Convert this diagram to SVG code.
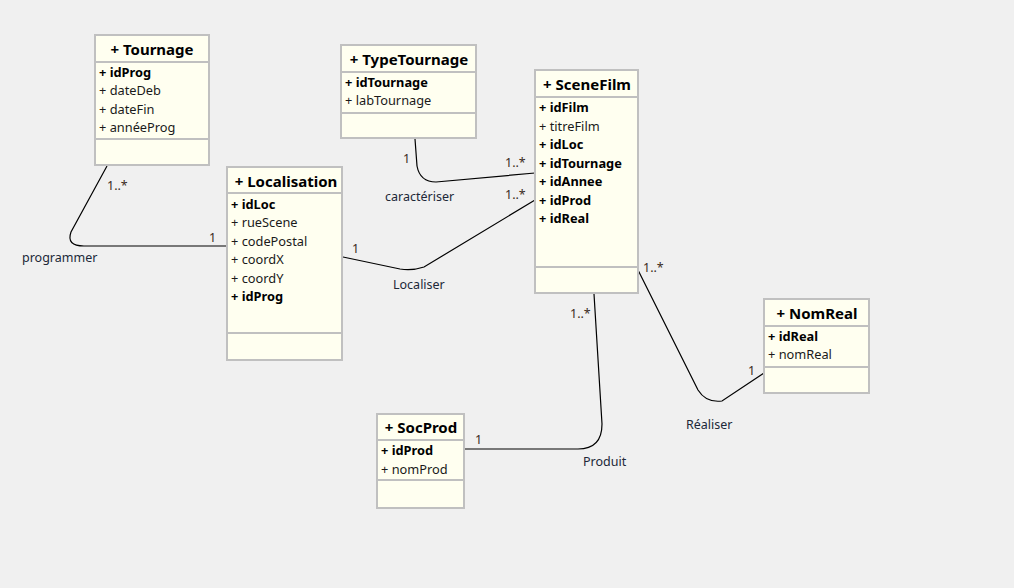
<svg xmlns="http://www.w3.org/2000/svg" width="1014" height="588" viewBox="0 0 1014 588">
<style>
.box{fill:#fffff0;stroke:#c0c0c0;stroke-width:2}
.sep{stroke:#c0c0c0;stroke-width:2}
.t{font-family:"Noto Sans","DejaVu Sans",sans-serif;font-size:12.8px;fill:#1a1a1a}
.b{font-weight:bold;fill:#000}
.h{font-family:"Noto Sans","DejaVu Sans",sans-serif;font-size:15px;font-weight:bold;fill:#000;text-anchor:middle}
.m{font-family:"Noto Sans","DejaVu Sans",sans-serif;font-size:12.5px;fill:#3a2a1a}
.l{font-family:"Noto Sans","DejaVu Sans",sans-serif;font-size:12.5px;fill:#202838}
.c{fill:none;stroke:#000;stroke-width:1.2}
</style>
<rect width="1014" height="588" fill="#f0f0f0"/>
<g id="connectors">
<path class="c" d="M107,166 L71,232 Q66,246 84,246 L227,246"/>
<path class="c" d="M415,139 L417,166 Q420,182 436,182 L535,173"/>
<path class="c" d="M343,257 L400,269 Q412,271 424,267 L535,200"/>
<path class="c" d="M594,294 L602,424 Q602,449 578,449 L464,449"/>
<path class="c" d="M638,270 L698,390 Q706,403 722,401 L764,373"/>
<text class="m" x="107" y="190">1..*</text>
<text class="m" x="209" y="242">1</text>
<text class="l" x="22" y="262">programmer</text>
<text class="m" x="403" y="163">1</text>
<text class="m" x="505" y="167">1..*</text>
<text class="l" x="385" y="201">caractériser</text>
<text class="m" x="352" y="253">1</text>
<text class="m" x="505" y="199">1..*</text>
<text class="l" x="393" y="289">Localiser</text>
<text class="m" x="570" y="318">1..*</text>
<text class="m" x="475" y="444">1</text>
<text class="l" x="583" y="466">Produit</text>
<text class="m" x="643" y="272">1..*</text>
<text class="m" x="748" y="375">1</text>
<text class="l" x="686" y="429">Réaliser</text>
</g>
<g id="Tournage">
<rect class="box" x="95" y="35" width="114" height="130"/>
<line class="sep" x1="95" y1="62" x2="209" y2="62"/>
<line class="sep" x1="95" y1="139" x2="209" y2="139"/>
<text class="h" x="152" y="55">+ Tournage</text>
<text class="t b" x="99" y="77">+ idProg</text>
<text class="t" x="99" y="95">+ dateDeb</text>
<text class="t" x="99" y="114">+ dateFin</text>
<text class="t" x="99" y="132">+ annéeProg</text>
</g>
<g id="TypeTournage">
<rect class="box" x="341" y="45" width="135" height="93"/>
<line class="sep" x1="341" y1="72" x2="476" y2="72"/>
<line class="sep" x1="341" y1="113" x2="476" y2="113"/>
<text class="h" x="409" y="65">+ TypeTournage</text>
<text class="t b" x="345" y="87">+ idTournage</text>
<text class="t" x="345" y="105">+ labTournage</text>
</g>
<g id="SceneFilm">
<rect class="box" x="535" y="70" width="103" height="223"/>
<line class="sep" x1="535" y1="97" x2="638" y2="97"/>
<line class="sep" x1="535" y1="267" x2="638" y2="267"/>
<text class="h" x="587" y="90">+ SceneFilm</text>
<text class="t b" x="539" y="112">+ idFilm</text>
<text class="t" x="539" y="131">+ titreFilm</text>
<text class="t b" x="539" y="149">+ idLoc</text>
<text class="t b" x="539" y="168">+ idTournage</text>
<text class="t b" x="539" y="186">+ idAnnee</text>
<text class="t b" x="539" y="205">+ idProd</text>
<text class="t b" x="539" y="223">+ idReal</text>
</g>
<g id="Localisation">
<rect class="box" x="227" y="167" width="115" height="193"/>
<line class="sep" x1="227" y1="193" x2="342" y2="193"/>
<line class="sep" x1="227" y1="333" x2="342" y2="333"/>
<text class="h" x="286" y="187">+ Localisation</text>
<text class="t b" x="231" y="209">+ idLoc</text>
<text class="t" x="231" y="227">+ rueScene</text>
<text class="t" x="231" y="246">+ codePostal</text>
<text class="t" x="231" y="264">+ coordX</text>
<text class="t" x="231" y="283">+ coordY</text>
<text class="t b" x="231" y="301">+ idProg</text>
</g>
<g id="SocProd">
<rect class="box" x="377" y="414" width="87" height="94"/>
<line class="sep" x1="377" y1="440" x2="464" y2="440"/>
<line class="sep" x1="377" y1="480" x2="464" y2="480"/>
<text class="h" x="421" y="433">+ SocProd</text>
<text class="t b" x="381" y="455">+ idProd</text>
<text class="t" x="381" y="474">+ nomProd</text>
</g>
<g id="NomReal">
<rect class="box" x="764" y="299" width="105" height="94"/>
<line class="sep" x1="764" y1="326" x2="869" y2="326"/>
<line class="sep" x1="764" y1="367" x2="869" y2="367"/>
<text class="h" x="817" y="319">+ NomReal</text>
<text class="t b" x="768" y="341">+ idReal</text>
<text class="t" x="768" y="359">+ nomReal</text>
</g>
</svg>
